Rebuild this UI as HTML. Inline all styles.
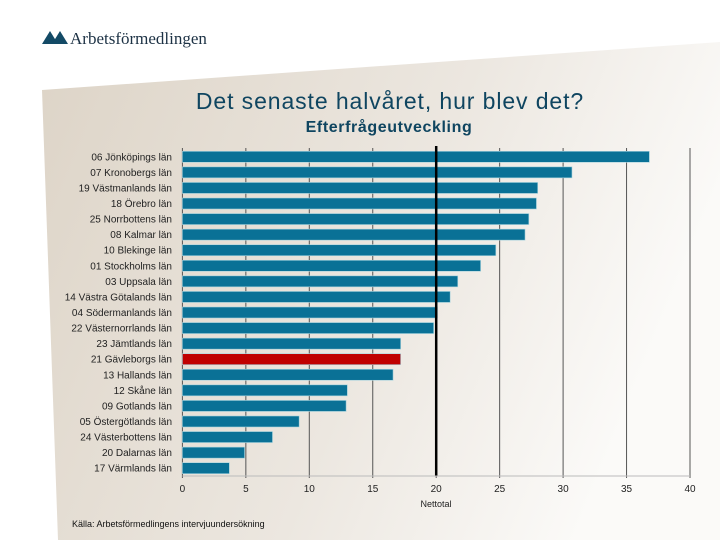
<!DOCTYPE html>
<html><head><meta charset="utf-8"><style>
html,body{margin:0;padding:0;background:#fff;}
#wrap{position:relative;width:720px;height:540px;overflow:hidden;font-family:"Liberation Sans",sans-serif;}
svg{position:absolute;left:0;top:0;}
</style></head><body>
<div id="wrap">
<svg id="chart" width="720" height="540">
<defs>
<linearGradient id="bg" x1="0" y1="0" x2="1" y2="0.3">
<stop offset="0" stop-color="#ddd4c7"/><stop offset="0.6" stop-color="#ece7e0"/><stop offset="1" stop-color="#fbfaf8"/>
</linearGradient>
</defs>
<polygon points="42,90 720,42 720,540 58,540" fill="url(#bg)"/>
<g>
<polygon points="42,44 50,31 58,44" fill="#134a66"/>
<polygon points="52,44 60,31 68,44" fill="#134a66"/>
<text x="70" y="44" font-family="Liberation Serif, serif" font-size="17" fill="#1d3245">Arbetsförmedlingen</text>
</g>
<text x="390" y="109" text-anchor="middle" font-size="23" letter-spacing="0.9" fill="#0f4560">Det senaste halvåret, hur blev det?</text>
<text x="389" y="132" text-anchor="middle" font-size="16" letter-spacing="0.6" font-weight="bold" fill="#0f4560">Efterfrågeutveckling</text>
<g id="plot"></g>
<text x="72" y="527" font-size="9" fill="#111">Källa: Arbetsförmedlingens intervjuundersökning</text>
</svg>
</div>
<script>
const categories=["06 Jönköpings län","07 Kronobergs län","19 Västmanlands län","18 Örebro län","25 Norrbottens län","08 Kalmar län","10 Blekinge län","01 Stockholms län","03 Uppsala län","14 Västra Götalands län","04 Södermanlands län","22 Västernorrlands län","23 Jämtlands län","21 Gävleborgs län","13 Hallands län","12 Skåne län","09 Gotlands län","05 Östergötlands län","24 Västerbottens län","20 Dalarnas län","17 Värmlands län"];
const values=[36.8,30.7,28.0,27.9,27.3,27.0,24.7,23.5,21.7,21.1,20.1,19.8,17.2,17.2,16.6,13.0,12.9,9.2,7.1,4.9,3.7];
const highlight=["21 Gävleborgs län"];
const ticks=[0,5,10,15,20,25,30,35,40];
const average=[20];
const NS="http://www.w3.org/2000/svg";
const g=document.getElementById('plot');
const x0=182.4,x1=690,xmax=40,yTop=151.3,step=15.57,bh=11;
function xs(v){return x0+(x1-x0)*v/xmax;}
function ys(i){return yTop+i*step;}
function mk(t,a){const e=document.createElementNS(NS,t);for(const k in a)e.setAttribute(k,a[k]);g.appendChild(e);return e;}
ticks.forEach(t=>{
 const l=mk('line',{x1:xs(t),x2:xs(t),y1:148,y2:478,stroke:'#555','stroke-width':1});
 
 
 const tx=mk('text',{x:xs(t),y:492,'text-anchor':'middle','font-size':10,fill:'#222'});
 tx.textContent=t;
 
 
});
categories.forEach((c,i)=>{
 const r=mk('rect',{x:x0,y:ys(i),width:xs(values[i])-x0,height:bh,fill:highlight.includes(c)?'#c00000':'#0a7196',stroke:'#a9d4de','stroke-width':0.6});
 
 
 const t=mk('text',{x:172,y:ys(i)+bh/2+3.5,'text-anchor':'end','font-size':10,fill:'#222'});
 t.textContent=c;
 
 
});
const av=mk('line',{x1:xs(average[0]),x2:xs(average[0]),y1:146,y2:476,stroke:'#000','stroke-width':2.5});


const ax=mk('line',{x1:x0,x2:x1,y1:476,y2:476,stroke:'#bbb','stroke-width':1});


const xt=mk('text',{x:436,y:507,'text-anchor':'middle','font-size':9,fill:'#222'});
xt.textContent='Nettotal';


</script>
</body></html>
